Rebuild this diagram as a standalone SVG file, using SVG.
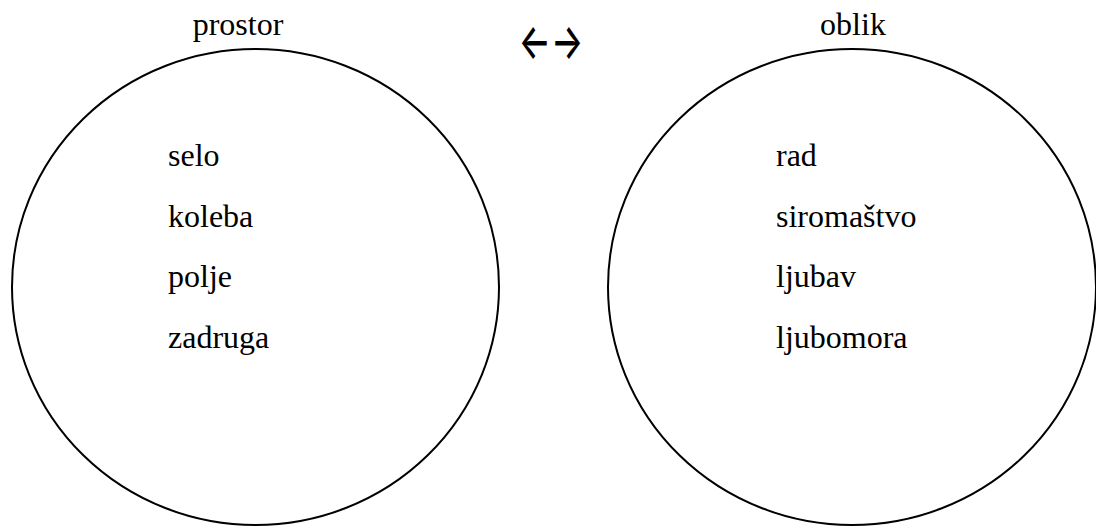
<svg xmlns="http://www.w3.org/2000/svg" width="1096" height="527" viewBox="0 0 1096 527">
<style>
.c{fill:none;stroke:#000;stroke-width:2}
.t{font-family:"Liberation Serif","Times New Roman",serif;font-size:32px;fill:#000}
.a{font-family:Inter,"DejaVu Sans",sans-serif;font-size:34px;font-weight:500;fill:#000}
</style>
<rect width="1096" height="527" fill="#fff"/>
<g id="left">
<ellipse class="c" cx="255.5" cy="287" rx="243.5" ry="238"/>
<text class="t" x="238" y="35" text-anchor="middle">prostor</text>
<text class="t" x="168" y="166">selo</text>
<text class="t" x="168" y="227">koleba</text>
<text class="t" x="168" y="287">polje</text>
<text class="t" x="168" y="348">zadruga</text>
</g>
<g id="right">
<ellipse class="c" cx="852" cy="287" rx="244" ry="238"/>
<text class="t" x="853" y="35" text-anchor="middle">oblik</text>
<text class="t" x="776" y="166">rad</text>
<text class="t" x="776" y="227">siromaštvo</text>
<text class="t" x="776" y="287">ljubav</text>
<text class="t" x="776" y="348">ljubomora</text>
</g>
<g id="connectors">
<text class="a" transform="translate(551,42) scale(1,1.45)" x="0" y="11.5" text-anchor="middle">←→</text>
</g>
</svg>
